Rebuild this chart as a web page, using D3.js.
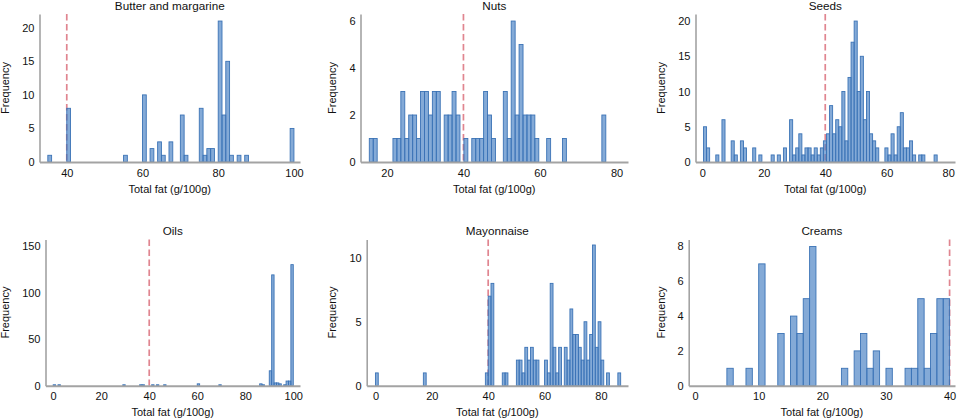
<!DOCTYPE html>
<html><head><meta charset="utf-8">
<script src="https://cdn.jsdelivr.net/npm/d3@7"></script>
<style>
body{margin:0;background:#fff}
svg{display:block}
text{font-family:"Liberation Sans",Arial,sans-serif;fill:#111}
</style>
</head><body>
<svg id="chart" width="957" height="418"></svg>
<script>
// ---------------- DATA ----------------
const panelTitles = ["Butter and margarine", "Nuts", "Seeds", "Oils", "Mayonnaise", "Creams"];
const xAxisTitle = "Total fat (g/100g)";
const yAxisTitle = "Frequency";
const threshold = 40;

// bin lower edges (g/100g) and counts
const butterBins   = [35, 40, 55, 60, 62, 64, 65, 67, 70, 71, 75, 76, 77, 78, 80, 81, 82, 83, 85, 87, 99];
const butterCounts = [1, 8, 1, 10, 2, 3, 1, 3, 7, 1, 8, 1, 2, 2, 21, 7, 15, 1, 1, 1, 5];

const nutsBins   = [15.4, 16.43, 21.58, 22.61, 23.64, 24.67, 25.7, 26.73, 27.76, 28.79, 29.82, 30.85, 31.88, 32.91,
                    34.97, 36.0, 37.03, 38.06, 40.12, 42.18, 43.21, 44.24, 45.27, 46.3, 47.33, 50.42, 51.45, 52.48,
                    53.51, 54.54, 55.57, 56.6, 57.63, 58.66, 61.75, 65.87, 76.17];
const nutsCounts = [1, 1, 1, 1, 3, 1, 2, 2, 1, 3, 3, 2, 3, 3,
                    2, 2, 3, 2, 1, 1, 1, 1, 3, 2, 1, 3, 1, 6,
                    2, 5, 2, 2, 2, 1, 1, 1, 2];

const seedsBins   = [0.4, 1.4, 4.4, 6.4, 9.4, 10.4, 12.4, 13.4, 16.4, 18.4, 22.4, 24.4, 26.4, 28.4, 29.4, 30.4,
                     31.4, 32.4, 33.4, 34.4, 35.4, 36.4, 37.4, 38.4, 39.4, 40.4, 41.4, 42.4, 43.4, 44.4, 45.4,
                     46.4, 47.4, 48.4, 49.4, 50.4, 51.4, 52.4, 53.4, 54.4, 55.4, 56.4, 59.4, 60.4, 61.4, 62.4,
                     63.4, 64.4, 65.4, 66.4, 67.4, 68.4, 70.4, 71.4, 75.4];
const seedsCounts = [5, 2, 1, 6, 3, 1, 3, 2, 2, 1, 1, 1, 2, 6, 1, 2,
                     4, 1, 2, 2, 1, 2, 1, 2, 3, 4, 8, 4, 6, 5, 10,
                     3, 12, 17, 20, 10, 15, 6, 10, 4, 3, 2, 2, 1, 4, 1,
                     5, 7, 2, 2, 3, 1, 1, 1, 1];

const oilsBins   = [0, 2, 29, 36, 37, 41, 43, 46, 60, 69, 86, 87, 90, 91, 92, 93, 94, 96, 97, 98, 99];
const oilsCounts = [1, 1, 1, 1, 1, 1, 1, 1, 2, 1, 2, 1, 16, 119, 3, 3, 2, 1, 5, 5, 130];

const mayoBins   = [0, 17, 39, 40, 41, 45, 46, 50, 51, 52, 53, 54, 55, 56, 57, 60, 61, 62, 63, 64, 65,
                    67, 68, 69, 70, 71, 72, 73, 74, 75, 76, 77, 78, 79, 80, 82, 86];
const mayoCounts = [1, 1, 1, 7, 8, 1, 1, 2, 2, 1, 3, 2, 3, 2, 2, 2, 1, 8, 3, 1, 3,
                    3, 2, 6, 4, 4, 3, 2, 5, 2, 4, 11, 3, 5, 2, 1, 1];

const creamsBins   = [5, 8, 10, 13, 15, 16, 17, 18, 23, 25, 26, 27, 28, 30, 33, 34, 35, 36, 37, 38, 39];
const creamsCounts = [1, 1, 7, 3, 4, 3, 5, 8, 1, 2, 3, 1, 2, 1, 1, 1, 5, 1, 3, 5, 5];

const binWidths = [1, 1.03, 1, 1, 1, 1];

const xDomains = [[32.8, 101.6], [13.1, 83], [-2.2, 82.2], [-3.2, 102.8], [-3.1, 89.6], [-1.0, 40.85]];
const yMaxes   = [22.05, 6.3, 21, 157, 11.43, 8.4];

const xTickValues = [[40, 60, 80, 100], [20, 40, 60, 80], [0, 20, 40, 60, 80],
                     [0, 20, 40, 60, 80, 100], [0, 20, 40, 60, 80], [0, 10, 20, 30, 40]];
const yTickValues = [[0, 5, 10, 15, 20], [0, 2, 4, 6], [0, 5, 10, 15, 20],
                     [0, 50, 100, 150], [0, 5, 10], [0, 2, 4, 6, 8]];

const allBins   = [butterBins, nutsBins, seedsBins, oilsBins, mayoBins, creamsBins];
const allCounts = [butterCounts, nutsCounts, seedsCounts, oilsCounts, mayoCounts, creamsCounts];

// ---------------- LAYOUT ----------------
const rects = [
  {l: 39.5,  r: 300, t: 14,    b: 162},
  {l: 360.5, r: 628, t: 14,    b: 162},
  {l: 695.5, r: 955, t: 14,    b: 162},
  {l: 45.5,  r: 300, t: 239.5, b: 385.7},
  {l: 366.7, r: 628, t: 239.5, b: 385.7},
  {l: 688.7, r: 955, t: 239.5, b: 385.7}
];

const svg = d3.select("#chart");
const axisColor = "#a3a3a3";

rects.forEach((rc, i) => {
  const x = d3.scaleLinear().domain(xDomains[i]).range([rc.l, rc.r]);
  const y = d3.scaleLinear().domain([0, yMaxes[i]]).range([rc.b, rc.t]);
  const g = svg.append("g");

  // threshold line (behind bars)
  g.append("line")
    .attr("x1", x(threshold)).attr("x2", x(threshold))
    .attr("y1", rc.t).attr("y2", rc.b)
    .attr("stroke", "#e08590").attr("stroke-width", 1.7)
    .attr("stroke-dasharray", "6.5,3.5");

  // bars
  const data = allBins[i].map((b, k) => ({x0: b, x1: b + binWidths[i], n: allCounts[i][k]}));
  g.append("g").selectAll("rect").data(data).join("rect")
    .attr("x", d => x(d.x0))
    .attr("width", d => Math.max(0.5, x(d.x1) - x(d.x0)))
    .attr("y", d => y(d.n))
    .attr("height", d => y(0) - y(d.n))
    .attr("fill", "#4a82c4").attr("fill-opacity", 0.68)
    .attr("stroke", "#3b73b6").attr("stroke-width", 0.9);

  // x axis
  const xa = g.append("g").attr("transform", `translate(0,${rc.b})`)
    .call(d3.axisBottom(x).tickValues(xTickValues[i]).tickSize(0).tickSizeOuter(0).tickPadding(7).tickFormat(d3.format("d")));
  xa.select(".domain").attr("stroke", axisColor).attr("stroke-width", 2);
  xa.selectAll("text").attr("font-size", 11).attr("font-family", '"Liberation Sans",Arial,sans-serif').attr("fill", "#111");

  // y axis
  const ya = g.append("g").attr("transform", `translate(${rc.l},0)`)
    .call(d3.axisLeft(y).tickValues(yTickValues[i]).tickSize(0).tickSizeOuter(0).tickPadding(5).tickFormat(d3.format("d")));
  ya.select(".domain").attr("stroke", axisColor).attr("stroke-width", 1.6);
  ya.selectAll("text").attr("font-size", 11).attr("font-family", '"Liberation Sans",Arial,sans-serif').attr("fill", "#111");
  let maxW = 0;
  ya.selectAll("text").each(function(){ maxW = Math.max(maxW, this.getComputedTextLength()); });

  // titles
  g.append("text")
    .attr("x", (rc.l + rc.r) / 2).attr("y", rc.t - 4.5)
    .attr("text-anchor", "middle").attr("font-size", 11.7)
    .text(panelTitles[i]);

  g.append("text")
    .attr("x", (rc.l + rc.r) / 2).attr("y", rc.b + 30.5)
    .attr("text-anchor", "middle").attr("font-size", 11)
    .text(xAxisTitle);

  const yx = rc.l - 5 - maxW - 13;
  g.append("text")
    .attr("transform", `translate(${yx},${(rc.t + rc.b) / 2}) rotate(-90)`)
    .attr("text-anchor", "middle").attr("font-size", 11)
    .text(yAxisTitle);
});
</script>
</body></html>
